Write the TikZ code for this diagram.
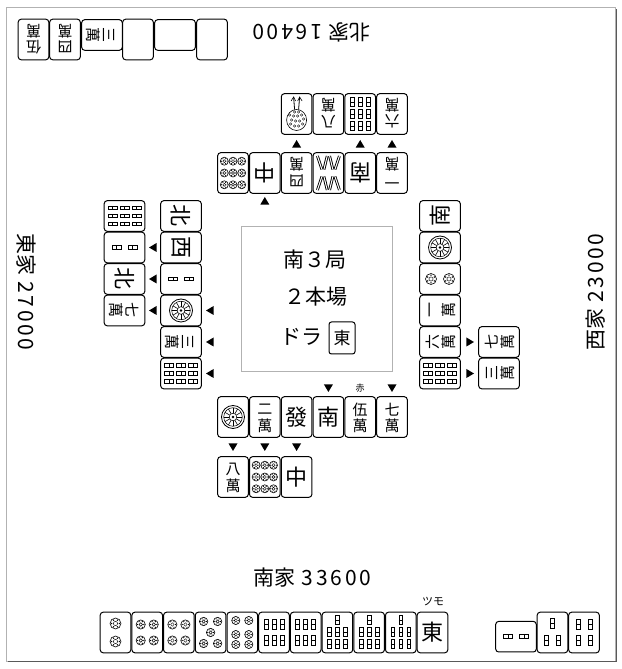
\documentclass[tikz,border=0pt]{standalone}
\usepackage{fontspec}
\setmainfont{Noto Sans CJK JP}
\newfontfamily\numfont[LetterSpace=13]{Noto Sans CJK JP}
\tikzset{
 tileframe/.style={draw=black,line width=1pt,fill=white,rounded corners=3pt},
 tch/.style={inner sep=0pt,transform shape},
 lbl/.style={inner sep=0pt,font=\fontsize{21}{21}\selectfont},
 ctext/.style={inner sep=0pt,font=\fontsize{21}{21}\selectfont},
 framegray/.style={draw=gray!60,line width=0.8pt},
}
\newcommand\mjt[4]{\begin{scope}[shift={(#1,{669-#2})},rotate=#3]
 \draw[tileframe] (-15.3,-20.3) rectangle (15.3,20.3);
 #4
\end{scope}}
\newcommand\mjtri[3]{\fill[shift={(#1,{669-#2})},rotate=#3] (0,4) -- (-4.5,-3.6) -- (4.5,-3.6) -- cycle;}
% man / honours
\newcommand\Man[1]{\node[tch,font=\fontsize{15}{15}\selectfont] at (0,7.5) {#1};
 \node[tch,font=\fontsize{15}{15}\selectfont] at (0,-8.5) {萬};}
\newcommand\Hon[1]{\node[tch,font=\fontsize{22}{22}\selectfont] at (0,0) {#1};}
% pins
\newcommand\mjPc[3]{\draw[line width=0.6pt] (#1,#2) circle (#3);
 \draw[line width=0.45pt] (#1,#2) circle ({#3*0.38});
 \foreach \a in {0,60,...,300} \fill ({#1+#3*0.7*cos(\a)},{#2+#3*0.7*sin(\a)}) circle ({#3*0.15});}
\newcommand\PinOne{\draw[line width=0.8pt] (0,0) circle (11.5); \draw[line width=0.5pt] (0,0) circle (9.3);
 \draw[line width=0.5pt] (0,0) circle (3.8); \fill (0,0) circle (1.4);
 \foreach \a in {0,30,...,330} \draw[line width=0.6pt] (\a:3.8) -- (\a:9.3);}
\newcommand\PinTwo{\mjPc{0}{9}{5.5}\mjPc{0}{-9}{5.5}}
\newcommand\PinFour{\mjPc{-6.5}{8}{4.6}\mjPc{6.5}{8}{4.6}\mjPc{-6.5}{-8}{4.6}\mjPc{6.5}{-8}{4.6}}
\newcommand\PinFive{\mjPc{-7}{11}{4.2}\mjPc{7}{11}{4.2}\mjPc{0}{0}{4.2}\mjPc{-7}{-11}{4.2}\mjPc{7}{-11}{4.2}}
\newcommand\PinSix{\mjPc{-6.5}{12}{4.1}\mjPc{6.5}{12}{4.1}\mjPc{-6.5}{-2}{4.1}\mjPc{6.5}{-2}{4.1}\mjPc{-6.5}{-12}{4.1}\mjPc{6.5}{-12}{4.1}}
\newcommand\PinNine{\foreach \i in {-8.7,0,8.7}{\foreach \j in {-11.8,0,11.8}{\mjPc{\i}{\j}{4}}}}
% sous
\newcommand\mjStick[2]{\draw[line width=0.8pt,fill=white] ({#1-1.9},{#2-4.6}) rectangle ({#1+1.9},{#2+4.6});
 \draw[line width=0.7pt] ({#1-1.9},#2) -- ({#1+1.9},#2);}
\newcommand\mjSk[2]{\draw[line width=2.8pt] #1 -- #2; \draw[white,line width=1pt] #1 -- #2;}
\newcommand\SouTwo{\mjStick{0}{8}\mjStick{0}{-8}}
\newcommand\SouThree{\mjStick{0}{9}\mjStick{-6}{-8}\mjStick{6}{-8}}
\newcommand\SouFour{\mjStick{-6}{8}\mjStick{6}{8}\mjStick{-6}{-8}\mjStick{6}{-8}}
\newcommand\SouSix{\foreach \i in {-8,0,8}{\mjStick{\i}{8}\mjStick{\i}{-8}}}
\newcommand\SouSeven{\mjStick{0}{12.5}\foreach \i in {-8,0,8}{\mjStick{\i}{0.5}\mjStick{\i}{-11.5}}}
\newcommand\SouNine{\foreach \i in {-8,0,8}{\foreach \j in {-12,0,12}{\mjStick{\i}{\j}}}}
\newcommand\SouEight{\mjSk{(-11,17)}{(-6.5,3.5)}\mjSk{(-4.5,3.5)}{(-1.2,17)}\mjSk{(1.2,17)}{(4.5,3.5)}\mjSk{(6.5,3.5)}{(11,17)}
 \mjSk{(-11,-17)}{(-6.5,-3.5)}\mjSk{(-4.5,-3.5)}{(-1.2,-17)}\mjSk{(1.2,-17)}{(4.5,-3.5)}\mjSk{(6.5,-3.5)}{(11,-17)}}
\newcommand\SouOne{\draw[line width=0.6pt] (0,6) ellipse (10 and 10.5);
 \foreach \x/\y in {-6/10,-2/12,2/12,6/10,-7/5,-3/7,1/7,5/6,-5/1,-1/2,3/2,7/1,-2/-2,2/-2}{\draw[line width=0.4pt] (\x,\y) circle (1.3);}
 \draw[line width=0.8pt] (-2,-4.5) -- (-3,-17); \draw[line width=0.8pt] (2,-4.5) -- (3,-17);
 \draw[line width=0.6pt] (-5.5,-13) -- (-3,-17) -- (-1,-13); \draw[line width=0.6pt] (1,-13) -- (3,-17) -- (5.5,-13);}
\begin{document}
\begin{tikzpicture}[x=1pt,y=1pt]
\useasboundingbox (0,0) rectangle (621,669);
% frame
\draw[framegray] (6,662) rectangle (615,8);
\draw[draw=gray!70!black,line width=1.3pt] (616.3,660) -- (616.3,7.2) -- (8,7.2);
% centre box
\draw[framegray] (241,298) rectangle (392,443);
\node[ctext] (round) at (315,409) {南３局};
\node[ctext] (honba) at (316,372) {２本場};
\node[ctext] (dorat) at (301,332) {ドラ};
\draw[tileframe,rounded corners=2.5pt] (329,315) rectangle (355,347);
\node[inner sep=0pt,font=\fontsize{17}{17}\selectfont] (dora) at (342,331) {東};
% labels
\node[lbl,rotate=180] (northlbl) at (311.5,637) {北家\hspace{6pt}{\numfont 16400}};
\node[lbl] (southlbl) at (312.5,91) {南家\hspace{6pt}{\numfont 33600}};
\node[lbl,rotate=-90] (eastlbl) at (26,377) {東家\hspace{6pt}{\numfont 27000}};
\node[lbl,rotate=90] (westlbl) at (596,377) {西家\hspace{6pt}{\numfont 23000}};
\node[inner sep=0pt,font=\fontsize{9}{9}\selectfont] (aka) at (360.2,281) {赤};
\node[inner sep=0pt,font=\fontsize{11}{11}\selectfont] (tsumo) at (433,67) {ツモ};
% south discards
\mjt{233}{417}{0}{\PinOne}
\mjt{264.8}{417}{0}{\Man{二}}
\mjt{296.6}{417}{0}{\Hon{發}}
\mjt{328.4}{417}{0}{\Hon{南}}
\mjt{360.2}{417}{0}{\Man{伍}}
\mjt{392}{417}{0}{\Man{七}}
\mjt{233}{477}{0}{\Man{八}}
\mjt{264.8}{477}{0}{\PinNine}
\mjt{296.6}{477}{0}{\Hon{中}}
\mjtri{328.4}{388}{180}\mjtri{392}{388}{180}
\mjtri{233}{447}{180}\mjtri{264.8}{447}{180}\mjtri{296.6}{447}{180}
% north discards
\mjt{233}{173}{180}{\PinNine}
\mjt{264.8}{173}{180}{\Hon{中}}
\mjt{296.6}{173}{180}{\Man{四}}
\mjt{328.4}{173}{180}{\SouEight}
\mjt{360.2}{173}{180}{\Hon{南}}
\mjt{392}{173}{180}{\Man{一}}
\mjt{296.6}{114}{180}{\SouOne}
\mjt{328.4}{114}{180}{\Man{八}}
\mjt{360.2}{114}{180}{\SouNine}
\mjt{392}{114}{180}{\Man{六}}
\mjtri{296.6}{144}{0}\mjtri{360.2}{144}{0}\mjtri{392}{144}{0}\mjtri{264.8}{201}{0}
% east discards
\mjt{181}{216}{-90}{\Hon{北}}
\mjt{181}{247.5}{-90}{\Hon{西}}
\mjt{181}{279}{-90}{\SouTwo}
\mjt{181}{310.5}{-90}{\PinOne}
\mjt{181}{342}{-90}{\Man{三}}
\mjt{181}{373.5}{-90}{\SouNine}
\mjt{124.5}{216}{-90}{\SouNine}
\mjt{124.5}{247.5}{-90}{\SouTwo}
\mjt{124.5}{279}{-90}{\Hon{北}}
\mjt{124.5}{310.5}{-90}{\Man{七}}
\mjtri{153}{247.5}{90}\mjtri{153}{279}{90}\mjtri{153}{310.5}{90}
\mjtri{210}{310.5}{90}\mjtri{210}{342}{90}\mjtri{210}{373.5}{90}
% west discards
\mjt{440}{216}{90}{\Hon{南}}
\mjt{440}{247.5}{90}{\PinOne}
\mjt{440}{279}{90}{\PinTwo}
\mjt{440}{310.5}{90}{\Man{一}}
\mjt{440}{342}{90}{\Man{六}}
\mjt{440}{373.5}{90}{\SouNine}
\mjt{499}{342}{90}{\Man{七}}
\mjt{499}{373.5}{90}{\Man{三}}
\mjtri{470}{342}{-90}\mjtri{470}{373.5}{-90}
% south hand
\mjt{115.5}{632.5}{0}{\PinTwo}
\mjt{147.2}{632.5}{0}{\PinFour}
\mjt{178.9}{632.5}{0}{\PinFour}
\mjt{210.6}{632.5}{0}{\PinFive}
\mjt{242.3}{632.5}{0}{\PinSix}
\mjt{274}{632.5}{0}{\SouSix}
\mjt{305.7}{632.5}{0}{\SouSix}
\mjt{337.4}{632.5}{0}{\SouSeven}
\mjt{369.1}{632.5}{0}{\SouSeven}
\mjt{400.8}{632.5}{0}{\SouSeven}
\mjt{432.5}{632.5}{0}{\Hon{東}}
% south meld
\mjt{516}{636.7}{90}{\SouTwo}
\mjt{552.5}{632.5}{0}{\SouThree}
\mjt{584}{632.5}{0}{\SouFour}
% north hand / melds
\mjt{33.5}{39.5}{180}{\Man{伍}}
\mjt{65}{39.5}{180}{\Man{四}}
\mjt{102}{35}{-90}{\Man{三}}
\mjt{138}{39.5}{180}{}
\mjt{175}{35}{-90}{}
\mjt{212}{39.5}{180}{}
\end{tikzpicture}
\end{document}
